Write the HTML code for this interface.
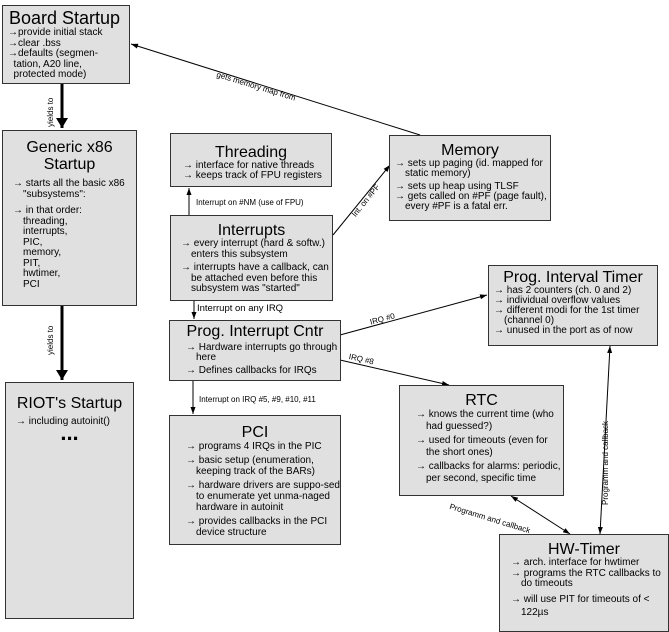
<!DOCTYPE html>
<html><head><style>
body{margin:0;width:669px;height:632px;background:#fff;position:relative;overflow:hidden;font-family:"Liberation Sans",sans-serif;color:#000}
.b{position:absolute;background:#e0e0e0;border:1px solid #333;box-sizing:border-box;font-size:10px;line-height:10.5px}
.t{text-align:center;font-size:16px;line-height:17px;margin-top:3px}
.b p{margin:0 0 3px 0;padding-left:14px;text-indent:-10px}
.l{position:absolute;font-size:8px;white-space:nowrap}
svg{position:absolute;left:0;top:0}
</style></head><body>
<svg width="669" height="632">
<defs>
<marker id="a" markerWidth="8" markerHeight="8" refX="7" refY="4" orient="auto" markerUnits="userSpaceOnUse"><path d="M0,1.5 L7,4 L0,6.5z"/></marker>
<marker id="s" markerWidth="8" markerHeight="8" refX="1" refY="4" orient="auto" markerUnits="userSpaceOnUse"><path d="M8,1.5 L1,4 L8,6.5z"/></marker>
<marker id="big" markerWidth="14" markerHeight="14" refX="10" refY="6" orient="auto" markerUnits="userSpaceOnUse"><path d="M0,0 L10,6 L0,12z"/></marker>
</defs>
<g stroke="#000" stroke-width="1" fill="none">
<line x1="420" y1="135" x2="131" y2="44" marker-end="url(#a)"/>
<line x1="62" y1="84" x2="62" y2="128" stroke-width="3" marker-end="url(#big)"/>
<line x1="62" y1="305" x2="62" y2="380" stroke-width="3" marker-end="url(#big)"/>
<line x1="189" y1="215" x2="189" y2="188" marker-end="url(#a)"/>
<line x1="194" y1="300" x2="194" y2="319" marker-end="url(#a)"/>
<line x1="333" y1="235" x2="390" y2="165" marker-end="url(#a)"/>
<line x1="340" y1="335" x2="487" y2="295" marker-end="url(#a)"/>
<line x1="340" y1="360" x2="449" y2="385" marker-end="url(#a)"/>
<line x1="193" y1="380" x2="193" y2="414" marker-end="url(#a)"/>
<line x1="511" y1="496" x2="570" y2="534" marker-start="url(#s)" marker-end="url(#a)"/>
<line x1="610" y1="346" x2="600" y2="534" marker-start="url(#s)" marker-end="url(#a)"/>
</g>
</svg>

<div class="b" style="left:2px;top:5px;width:128px;height:79px">
<div style="font-size:18px;line-height:19px;margin:3px 0 0 6px">Board Startup</div>
<div style="padding-left:5px;line-height:10.5px">→provide initial stack<br>→clear .bss<br>→defaults (segmen-<br>&nbsp;&nbsp;tation, A20 line,<br>&nbsp;&nbsp;protected mode)</div>
</div>

<div class="b" style="left:2px;top:130px;width:135px;height:176px">
<div class="t" style="margin-top:8px">Generic x86<br>Startup</div>
<div style="padding:6px 0 0 6px">
<p>→ starts all the basic x86 "subsystems":</p>
<p style="margin-top:6px">→ in that order:<br>threading,<br>interrupts,<br>PIC,<br>memory,<br>PIT,<br>hwtimer,<br>PCI</p>
</div></div>

<div class="b" style="left:5px;top:382px;width:129px;height:237px">
<div class="t" style="margin-top:12px">RIOT's Startup</div>
<div style="padding:5px 0 0 10px">→ including autoinit()</div>
<div style="text-align:center;font-size:22px;font-weight:bold;margin-top:0px">...</div>
</div>

<div class="b" style="left:170px;top:133px;width:162px;height:54px">
<div class="t" style="margin-top:10px">Threading</div>
<div style="padding-left:12px;line-height:10px">→ interface for native threads<br>→ keeps track of FPU registers</div>
</div>

<div class="b" style="left:170px;top:215px;width:163px;height:86px">
<div class="t" style="margin-top:6px">Interrupts</div>
<div style="padding-left:6px">
<p>→ every interrupt (hard &amp; softw.) enters this subsystem</p>
<p>→ interrupts have a callback, can be attached even before this subsystem was "started"</p></div>
</div>

<div class="b" style="left:169px;top:320px;width:172px;height:61px">
<div class="t" style="margin-top:2px">Prog. Interrupt Cntr</div>
<div style="padding:3px 0 0 12px;line-height:10px"><p>→ Hardware interrupts go through here</p><p>→ Defines callbacks for IRQs</p></div>
</div>

<div class="b" style="left:169px;top:415px;width:172px;height:130px">
<div class="t" style="margin-top:8px">PCI</div>
<div style="padding-left:12px;line-height:11px">
<p>→ programs 4 IRQs in the PIC</p>
<p>→ basic setup (enumeration, keeping track of the BARs)</p>
<p>→ hardware drivers are suppo-sed to enumerate yet unma-naged hardware in autoinit</p>
<p>→ provides callbacks in the PCI device structure</p></div>
</div>

<div class="b" style="left:389px;top:135px;width:162px;height:86px">
<div class="t" style="margin-top:6px">Memory</div>
<div style="padding-left:1px;line-height:10px">
<p>→ sets up paging (id. mapped for static memory)</p>
<p style="margin:0">→ sets up heap using TLSF</p>
<p>→ gets called on #PF (page fault), every #PF is a fatal err.</p></div>
</div>

<div class="b" style="left:488px;top:265px;width:170px;height:81px">
<div class="t" style="margin-top:3px">Prog. Interval Timer</div>
<div style="padding-left:1px;line-height:10px">
<p style="margin:0">→ has 2 counters (ch. 0 and 2)</p>
<p style="margin:0">→ individual overflow values</p>
<p style="margin:0">→ different modi for the 1st timer (channel 0)</p>
<p style="margin:0">→ unused in the port as of now</p></div>
</div>

<div class="b" style="left:399px;top:385px;width:165px;height:111px">
<div class="t" style="margin-top:6px">RTC</div>
<div style="padding-left:12px;line-height:11.5px">
<p>→ knows the current time (who had guessed?)</p>
<p>→ used for timeouts (even for the short ones)</p>
<p>→ callbacks for alarms: periodic, per second, specific time</p></div>
</div>

<div class="b" style="left:499px;top:534px;width:170px;height:98px">
<div class="t" style="margin-top:6px">HW-Timer</div>
<div style="padding-left:7px;line-height:10.5px">
<p style="margin:0">→ arch. interface for hwtimer</p>
<p>→ programs the RTC callbacks to do timeouts</p>
<p style="line-height:13px">→ will use PIT for timeouts of &lt; 122µs</p></div>
</div>

<div class="l" style="left:218px;top:70px;transform:rotate(17deg);transform-origin:0 0">gets memory map from</div>
<div class="l" style="left:46px;top:100px;transform:rotate(-90deg);transform-origin:0 0;left:46px;top:127px">yields to</div>
<div class="l" style="left:46px;top:355px;transform:rotate(-90deg);transform-origin:0 0">yields to</div>
<div class="l" style="left:196px;top:198px">Interrupt on #NM (use of FPU)</div>
<div class="l" style="left:197px;top:303px;font-size:9.5px">Interrupt on any IRQ</div>
<div class="l" style="left:350px;top:213px;transform:rotate(-51deg);transform-origin:0 0">Int. on #PF</div>
<div class="l" style="left:369px;top:318px;transform:rotate(-15deg);transform-origin:0 0">IRQ #0</div>
<div class="l" style="left:350px;top:352px;transform:rotate(13deg);transform-origin:0 0">IRQ #8</div>
<div class="l" style="left:199px;top:395px">Interrupt on IRQ #5, #9, #10, #11</div>
<div class="l" style="left:451px;top:502px;transform:rotate(17deg);transform-origin:0 0">Programm and callback</div>
<div class="l" style="left:601px;top:505px;transform:rotate(-90deg);transform-origin:0 0">Programm and callback</div>
</body></html>
